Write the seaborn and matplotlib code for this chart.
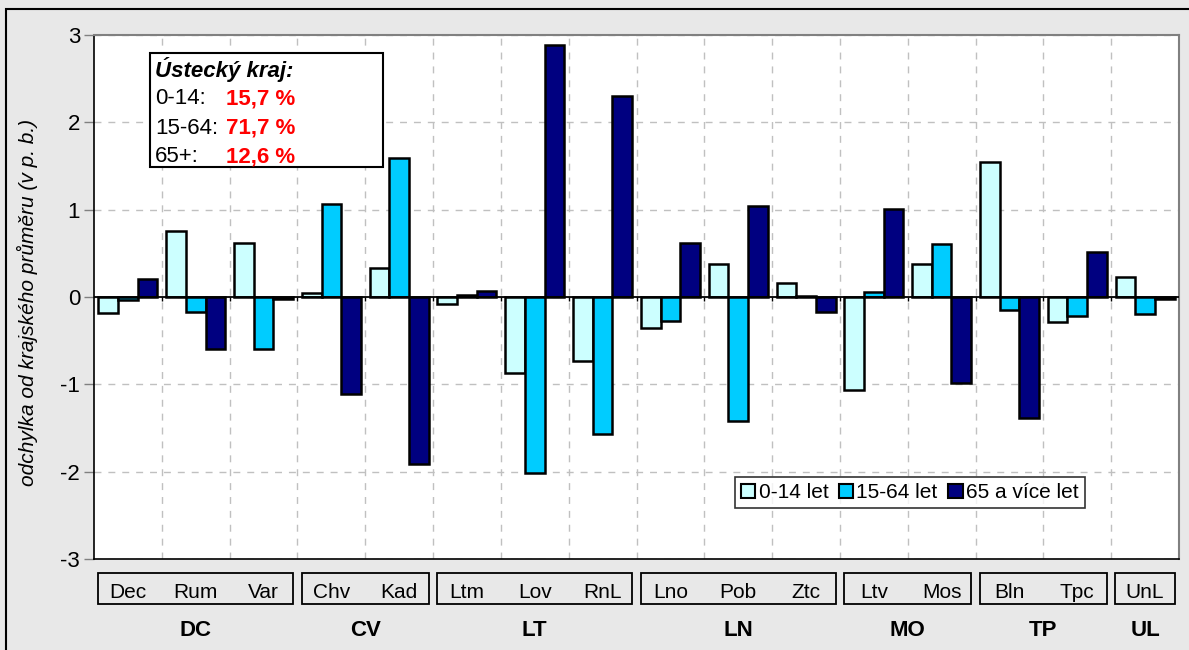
import numpy as np
import pandas as pd
import matplotlib
matplotlib.use("Agg")
import matplotlib.pyplot as plt
import matplotlib.transforms as mtransforms
from matplotlib.patches import Rectangle, Patch
import seaborn as sns

# ---- data ----
districts = ["Dec", "Rum", "Var", "Chv", "Kad", "Ltm", "Lov", "RnL",
             "Lno", "Pob", "Ztc", "Ltv", "Mos", "Bln", "Tpc", "UnL"]
groups = ["DC", "CV", "LT", "LN", "MO", "TP", "UL"]
group_sizes = [3, 2, 3, 3, 2, 2, 1]
series_names = ["0-14 let", "15-64 let", "65 a více let"]
age_0_14 = [-0.18, 0.76, 0.62, 0.05, 0.33, -0.08, -0.87, -0.73,
            -0.35, 0.38, 0.16, -1.06, 0.38, 1.55, -0.29, 0.23]
age_15_64 = [-0.03, -0.17, -0.60, 1.07, 1.59, 0.02, -2.01, -1.57,
             -0.27, -1.42, 0.01, 0.06, 0.61, -0.15, -0.22, -0.20]
age_65 = [0.21, -0.59, -0.02, -1.11, -1.91, 0.07, 2.88, 2.30,
          0.62, 1.04, -0.17, 1.01, -0.98, -1.39, 0.52, -0.02]
info_title = "Ústecký kraj:"
info_labels = ["0-14:", "15-64:", "65+:"]
info_values = ["15,7 %", "71,7 %", "12,6 %"]
yticks = [-3, -2, -1, 0, 1, 2, 3]
colors = ["#CCFFFF", "#00CCFF", "#000080"]

df = pd.DataFrame({
    "okres": districts * 3,
    "skupina": [series_names[0]] * 16 + [series_names[1]] * 16 + [series_names[2]] * 16,
    "hodnota": age_0_14 + age_15_64 + age_65,
})

plt.rcParams["font.family"] = ["Liberation Sans", "DejaVu Sans"]

fig = plt.figure(figsize=(11.89, 6.5), dpi=100)
fig.patch.set_facecolor("#e8e8e8")
ax = fig.add_axes([94 / 1189, 1 - 559 / 650, (1179 - 94) / 1189, (559 - 35) / 650])
ax.set_facecolor("white")

sns.barplot(data=df, x="okres", y="hodnota", hue="skupina", order=districts,
            hue_order=series_names, palette=colors, saturation=1, width=0.87,
            edgecolor="black", linewidth=1.8, ax=ax, legend=False, zorder=3)

n = len(districts)
ax.set_xlim(-0.5, n - 0.5)
ax.set_ylim(-3, 3)
ax.set_yticks(yticks)
ax.set_yticklabels([str(t) for t in yticks], fontsize=16)
ax.tick_params(axis="y", direction="out", length=7, width=1, color="#808080", pad=3)
ax.set_xticks([])
ax.set_xticks(np.arange(0.5, n - 0.5 + 1), minor=True)
ax.tick_params(axis="x", which="both", length=0)
ax.set_xlabel("")

# grid
ax.grid(axis="y", which="major", color="#c0c0c0", linestyle=(0, (5, 5)), lw=1, zorder=0)
ax.grid(axis="x", which="minor", color="#c0c0c0", linestyle=(0, (5, 5)), lw=1, zorder=0)
ax.set_axisbelow(True)

# zero axis line with tick marks
ax.axhline(0, color="black", lw=1.3, zorder=4)
ax.vlines(np.arange(0.5, n - 0.5, 1.0), 0, -0.05, color="black", lw=1, zorder=4)

for s in ["top", "right"]:
    ax.spines[s].set_color("#808080")
    ax.spines[s].set_linewidth(1.5)
for s in ["left", "bottom"]:
    ax.spines[s].set_color("black")
    ax.spines[s].set_linewidth(1.2)

ax.set_ylabel("odchylka od krajského průměru (v p. b.)", fontsize=15, style="italic")
ax.yaxis.set_label_coords(-0.052, 0.49)

# category labels (two levels)
trans = mtransforms.blended_transform_factory(ax.transData, fig.transFigure)
for i, d in enumerate(districts):
    ax.text(i, 1 - 592 / 650, d, transform=trans, ha="center", va="center",
            fontsize=15, clip_on=False)
start = 0
for g, size in zip(groups, group_sizes):
    first, last = start, start + size - 1
    x0 = first - 0.44
    x1 = last + 0.44
    rect = Rectangle((x0, 1 - 604 / 650), x1 - x0, (604 - 573) / 650,
                     transform=trans, fill=False, edgecolor="black", lw=1.3,
                     clip_on=False)
    ax.add_patch(rect)
    ax.text((first + last) / 2, 1 - 631 / 650, g, transform=trans, ha="center",
            va="center", fontsize=16, fontweight="bold", clip_on=False)
    start += size

# info box
fig.patches.append(Rectangle((150 / 1189, 1 - 167 / 650), (383 - 150) / 1189,
                             (167 - 53) / 650, transform=fig.transFigure,
                             facecolor="white", edgecolor="black", lw=1.5, zorder=5))
fig.text(155 / 1189, 1 - 70 / 650, info_title, fontsize=16, fontweight="bold",
         style="italic", va="center", ha="left", zorder=6)
for k, (lab, val) in enumerate(zip(info_labels, info_values)):
    yy = 1 - (99 + 29 * k) / 650
    fig.text(155 / 1189, yy, lab, fontsize=16, va="center", ha="left", zorder=6)
    fig.text(226 / 1189, yy, val, fontsize=16, va="center", ha="left",
             color="#ff0000", fontweight="bold", zorder=6)

# legend
handles = [Patch(facecolor=c, edgecolor="black", lw=1.5) for c in colors]
leg = ax.legend(handles, series_names, loc="center", bbox_to_anchor=(0.765, 0.242),
                bbox_transform=fig.transFigure, ncol=3, frameon=True, fancybox=False,
                fontsize=15, handlelength=0.7, handleheight=0.7, handletextpad=0.15,
                columnspacing=0.5, borderpad=0.3, borderaxespad=0)
leg.get_frame().set_edgecolor("black")
leg.get_frame().set_linewidth(1.2)
leg.set_zorder(10)

# outer frame
fig.patches.append(Rectangle((6 / 1189, -0.05), 1.2, 1.05 - 9 / 650,
                             transform=fig.transFigure, fill=False,
                             edgecolor="black", lw=1.5))

fig.savefig("out.png", dpi=100, facecolor=fig.get_facecolor())
